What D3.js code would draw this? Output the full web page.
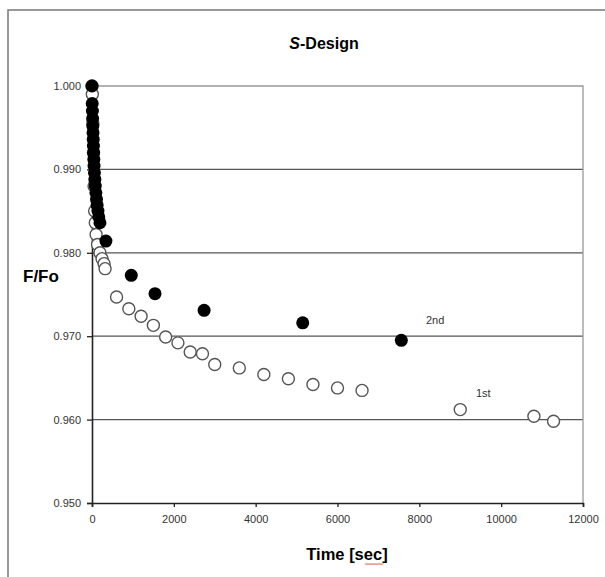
<!DOCTYPE html>
<html>
<head>
<meta charset="utf-8">
<script src="https://cdn.jsdelivr.net/npm/d3@7"></script>
<style>
  body { margin: 0; background: #fff; }
  text { font-family: "Liberation Sans", Arial, sans-serif; }
</style>
</head>
<body>
<div class="chart"></div>
<script>
var svgWidth = 605;
var svgHeight = 577;

// 1st run (open circles)
var firstTime = [0, 8, 20, 35, 50, 65, 80, 100, 135, 195, 245, 295, 320,
  600, 900, 1200, 1500, 1800, 2100, 2400, 2700, 3000, 3600, 4200, 4800,
  5400, 6000, 6600, 9000, 10800, 11280];
var firstValue = [1.000, 0.9990, 0.9955, 0.9920, 0.9880, 0.9850, 0.9836, 0.9822, 0.9810, 0.9800, 0.9793, 0.9787, 0.9781,
  0.9747, 0.9733, 0.9724, 0.9713, 0.9699, 0.9692, 0.9681, 0.9679, 0.9666, 0.9662, 0.9654, 0.9649,
  0.9642, 0.9638, 0.9635, 0.9612, 0.9604, 0.9598];

// 2nd run (filled circles)
var secondTime = [0, 5, 10, 15, 20, 25, 30, 35, 40, 45, 50, 60, 70, 80, 95, 110, 125, 145, 165, 195,
  340, 960, 1540, 2740, 5150, 7560];
var secondValue = [1.000, 0.9979, 0.9970, 0.9961, 0.9952, 0.9944, 0.9936, 0.9928, 0.9920, 0.9912, 0.9904,
  0.9896, 0.9888, 0.9880, 0.9872, 0.9864, 0.9857, 0.9850, 0.9843, 0.9836,
  0.9814, 0.9773, 0.9751, 0.9731, 0.9716, 0.9695];

var xTicks = [0, 2000, 4000, 6000, 8000, 10000, 12000];
var yTicks = [0.950, 0.960, 0.970, 0.980, 0.990, 1.000];

var svg = d3.select(".chart")
  .append("svg")
  .attr("width", svgWidth)
  .attr("height", svgHeight);

// outer chart frame (runs off the right and bottom edges)
svg.append("rect")
  .attr("x", 8).attr("y", 10)
  .attr("width", 640).attr("height", 620)
  .attr("fill", "none")
  .attr("stroke", "#777")
  .attr("stroke-width", 1.5);

var x = d3.scaleLinear().domain([0, 12000]).range([92, 583]);
var y = d3.scaleLinear().domain([0.95, 1.0]).range([503, 86]);

// gridlines
svg.append("g")
  .selectAll("line")
  .data(yTicks.slice(1, 5))
  .enter()
  .append("line")
  .attr("x1", x(0)).attr("x2", x(12000))
  .attr("y1", function(d) { return y(d); })
  .attr("y2", function(d) { return y(d); })
  .attr("stroke", "#555")
  .attr("stroke-width", 1.3);

// top and right plot border
svg.append("path")
  .attr("d", "M" + x(0) + "," + y(1.0) + "H" + x(12000) + "V" + y(0.95))
  .attr("fill", "none")
  .attr("stroke", "#999")
  .attr("stroke-width", 1.3);

// axes
var bottomAxis = d3.axisBottom(x).tickValues(xTicks).tickSize(4).tickPadding(8)
  .tickFormat(d3.format("d"));
var leftAxis = d3.axisLeft(y).tickValues(yTicks).tickSize(5).tickPadding(6)
  .tickFormat(d3.format(".3f"));

var xAxisG = svg.append("g")
  .attr("transform", "translate(0," + y(0.95) + ")")
  .call(bottomAxis);
var yAxisG = svg.append("g")
  .attr("transform", "translate(" + x(0) + ",0)")
  .call(leftAxis);

[xAxisG, yAxisG].forEach(function(g) {
  g.select(".domain").attr("stroke", "#222").attr("stroke-width", 1.6);
  g.selectAll(".tick line").attr("stroke", "#222").attr("stroke-width", 1.3);
  g.selectAll(".tick text")
    .attr("fill", "#333")
    .style("font-size", "11px")
    .style("font-family", "'Liberation Sans', Arial, sans-serif");
});

// 1st run points
svg.append("g")
  .selectAll("circle")
  .data(firstTime)
  .enter()
  .append("circle")
  .attr("cx", function(d) { return x(d); })
  .attr("cy", function(d, i) { return y(firstValue[i]); })
  .attr("r", 6)
  .attr("fill", "#fff")
  .attr("stroke", "#555")
  .attr("stroke-width", 1.4);

// 2nd run points
svg.append("g")
  .selectAll("circle")
  .data(secondTime)
  .enter()
  .append("circle")
  .attr("cx", function(d) { return x(d); })
  .attr("cy", function(d, i) { return y(secondValue[i]); })
  .attr("r", 6.5)
  .attr("fill", "#000");

// series labels
svg.append("text").attr("x", 426).attr("y", 324)
  .style("font-size", "11px").attr("fill", "#333").text("2nd");
svg.append("text").attr("x", 476).attr("y", 397)
  .style("font-size", "11px").attr("fill", "#333").text("1st");

// title
var title = svg.append("text")
  .attr("x", 324).attr("y", 49)
  .attr("text-anchor", "middle")
  .style("font-size", "16px")
  .style("font-weight", "bold");
title.append("tspan").style("font-style", "italic").text("S");
title.append("tspan").text("-Design");

// axis labels
svg.append("text")
  .attr("x", 23).attr("y", 282)
  .style("font-size", "17px")
  .style("font-weight", "bold")
  .text("F/Fo");

svg.append("text")
  .attr("x", 347).attr("y", 560)
  .attr("text-anchor", "middle")
  .style("font-size", "16.5px")
  .style("font-weight", "bold")
  .text("Time [sec]");

// spell-check squiggle under "sec"
var squiggle = "M365,563.5";
for (var i = 0; i < 9; i++) {
  squiggle += "l1,1.2l1,-1.2";
}
svg.append("path")
  .attr("d", squiggle)
  .attr("fill", "none")
  .attr("stroke", "#e03030")
  .attr("stroke-width", 0.8);
</script>
</body>
</html>
